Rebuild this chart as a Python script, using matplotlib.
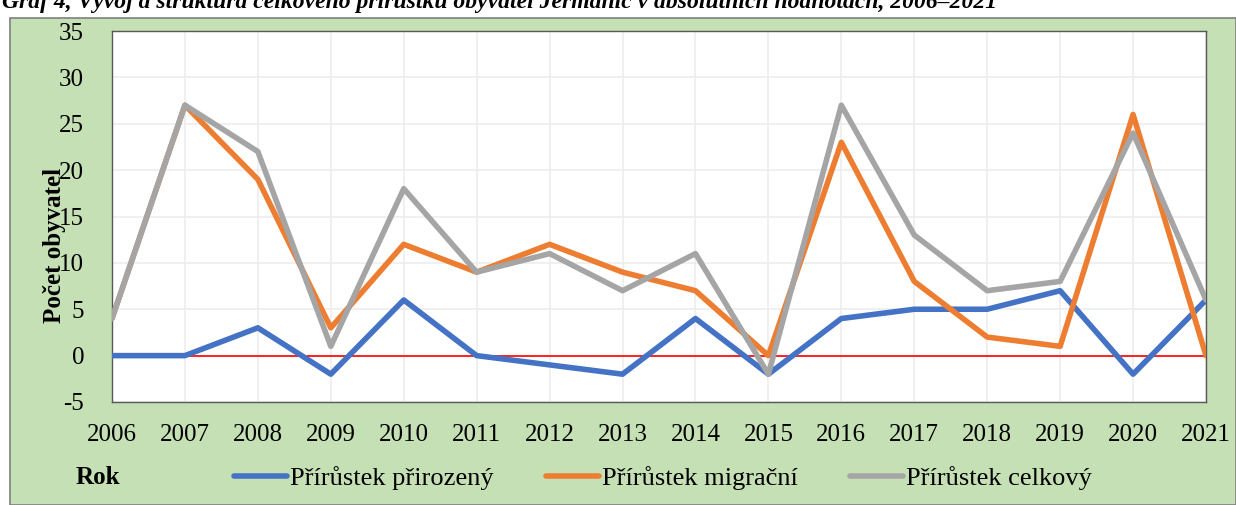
import matplotlib.pyplot as plt
from matplotlib.patches import Rectangle

plt.rcParams['font.family'] = ['Liberation Serif', 'DejaVu Serif']
plt.rcParams['axes.unicode_minus'] = False

years = list(range(2006, 2022))
prirozeny = [0, 0, 3, -2, 6, 0, -1, -2, 4, -2, 4, 5, 5, 7, -2, 6]
migracni = [4, 27, 19, 3, 12, 9, 12, 9, 7, 0, 23, 8, 2, 1, 26, 0]
celkovy = [4, 27, 22, 1, 18, 9, 11, 7, 11, -2, 27, 13, 7, 8, 24, 6]

W, H = 1236, 505
fig = plt.figure(figsize=(W / 100, H / 100), dpi=100)
fig.patch.set_facecolor('white')

# green frame behind the chart
fig.patches.append(Rectangle((10 / W, 0), 1 - 10 / W, 1 - 18 / H, transform=fig.transFigure,
                             facecolor='#C5E0B4', edgecolor='#7F7F7F', lw=1.2, zorder=-5))

ax = fig.add_axes([112 / W, 1 - 402 / H, (1206 - 112) / W, (402 - 31) / H])
ax.set_facecolor('white')

ax.axhline(0, color='#FF0000', lw=1.2, zorder=2)
ax.plot(years, prirozeny, color='#4472C4', lw=4, label='Přírůstek přirozený', zorder=3,
        solid_capstyle='round')
ax.plot(years, migracni, color='#ED7D31', lw=4, label='Přírůstek migrační', zorder=3,
        solid_capstyle='round')
ax.plot(years, celkovy, color='#A5A5A5', lw=4, label='Přírůstek celkový', zorder=3,
        solid_capstyle='round')

ax.set_xlim(2006, 2021)
ax.set_ylim(-5, 35)
ax.set_xticks(years)
ax.set_yticks(range(-5, 36, 5))
ax.grid(True, color='#EDEDED', lw=1.2)
ax.set_axisbelow(True)
ax.tick_params(length=0, labelsize=18)
ax.tick_params(axis='x', pad=16)
ax.tick_params(axis='y', pad=20)
for s in ax.spines.values():
    s.set_color('#595959')
    s.set_linewidth(1)

fig.text(55 / W, 1 - 245 / H, 'Počet obyvatel', rotation=90, ha='center', va='center',
         fontsize=18, fontweight='bold')
fig.text(76 / W, 1 - 478 / H, 'Rok', ha='left', va='center', fontsize=18, fontweight='bold')
fig.text(2 / W, 1 - 8 / H,
         'Graf 4, Vývoj a struktura celkového přírůstku obyvatel Jeřmanic v absolutních hodnotách, 2006–2021',
         ha='left', va='baseline', fontsize=17, fontweight='bold', style='italic')

fig.legend(loc='center', bbox_to_anchor=(663 / W, 1 - 478 / H), ncol=3, frameon=False,
           fontsize=19, handlelength=2.0, handletextpad=0.1, columnspacing=2.0)

fig.savefig('out.png', dpi=100)
